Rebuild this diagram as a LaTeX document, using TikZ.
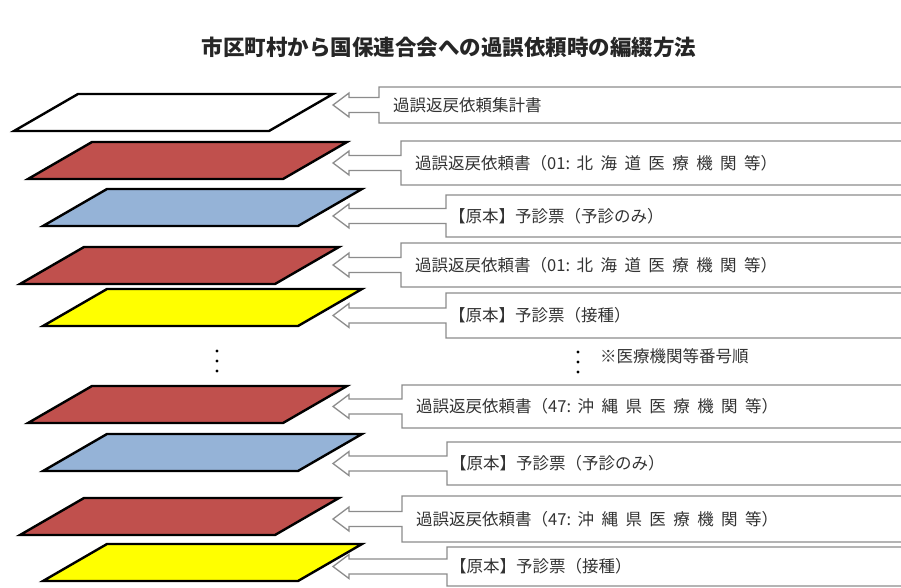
\documentclass[tikz,border=0pt]{standalone}
\usepackage{fontspec}
\newfontfamily\cjk{Noto Sans CJK JP}
\newfontfamily\cjkwide[LetterSpace=45]{Noto Sans CJK JP}
\definecolor{slipred}{HTML}{C0504D}
\definecolor{slipblue}{HTML}{95B3D7}
\definecolor{slipyellow}{HTML}{FFFF00}
\definecolor{calloutgray}{HTML}{8C8C8C}
\definecolor{labelgray}{HTML}{333333}

\tikzset{
  slipline/.style={draw=black, line width=2.4pt, line join=miter},
  calloutline/.style={draw=calloutgray, line width=1.3pt, fill=white},
  slipdot/.style={fill=black},
  listlabel/.style={anchor=west, inner sep=0pt, text=labelgray,
    font=\cjk\fontsize{16.5}{18}\selectfont},
}

% one sheet: bottom-left x, top y, fill colour
\newcommand{\slip}[3]{%
  \filldraw[slipline, fill=#3] (#1,#2+37) -- ++(255,0) -- ++(64,-37) -- ++(-255,0) -- cycle;}

% one callout: left x, top y, bottom y, name of its anchor
\newcommand{\callout}[4]{%
  \pgfmathsetmacro{\ymid}{(#2+#3)/2}
  \draw[calloutline] (#1,#2) -- (920,#2) -- (920,#3) -- (#1,#3) -- (#1,\ymid+7.5)
    -- (349,\ymid+7.5) -- (349,\ymid+12) -- (333,\ymid) -- (349,\ymid-12)
    -- (349,\ymid-7.5) -- (#1,\ymid-7.5) -- cycle;
  \coordinate (#4) at (#1,\ymid);}

\begin{document}
\begin{tikzpicture}[x=1pt, y=-1pt]
  \useasboundingbox (0,0) rectangle (901,588);
  \clip (0,0) rectangle (901,588);
  \fill[white] (0,0) rectangle (901,588);

  \node[text=black!85, font=\cjk\bfseries\fontsize{21.5}{24}\selectfont] (title) at (449,47)
    {市区町村から国保連合会への過誤依頼時の編綴方法};

  % sheets, top to bottom
  \slip{14}{94}{white}
  \slip{28}{142}{slipred}
  \slip{43}{189}{slipblue}
  \slip{20}{247}{slipred}
  \slip{43}{289}{slipyellow}
  \slip{28}{386}{slipred}
  \slip{43}{434}{slipblue}
  \slip{20}{498}{slipred}
  \slip{43}{544}{slipyellow}

  \foreach \y in {351,361,371} \fill[slipdot] (217,\y) circle (1.6);
  \foreach \y in {352,362,372} \fill[slipdot] (578,\y) circle (1.6);

  % callouts
  \callout{379}{87}{123}{c1}
  \callout{401}{141}{185}{c2}
  \callout{446}{195}{237}{c3}
  \callout{401}{243}{287}{c4}
  \callout{446}{293}{338}{c5}
  \callout{402}{385}{428}{c6}
  \callout{447}{442}{485}{c7}
  \callout{402}{496}{542}{c8}
  \callout{447}{547}{586}{c9}

  \node[listlabel] (lbl1) at ([xshift=14]c1) {過誤返戻依頼集計書};
  \node[listlabel] (lbl2) at ([xshift=14]c2) {過誤返戻依頼書（01:\hspace{0.4em}{\cjkwide 北海道医療機関等}）};
  \node[listlabel] (lbl3) at ([xshift=3]c3) {【原本】予診票（予診のみ）};
  \node[listlabel] (lbl4) at ([xshift=14]c4) {過誤返戻依頼書（01:\hspace{0.4em}{\cjkwide 北海道医療機関等}）};
  \node[listlabel] (lbl5) at ([xshift=3]c5) {【原本】予診票（接種）};
  \node[listlabel] (note) at (600,356) {※医療機関等番号順};
  \node[listlabel] (lbl6) at ([xshift=14]c6) {過誤返戻依頼書（47:\hspace{0.4em}{\cjkwide 沖縄県医療機関等}）};
  \node[listlabel] (lbl7) at ([xshift=3]c7) {【原本】予診票（予診のみ）};
  \node[listlabel] (lbl8) at ([xshift=14]c8) {過誤返戻依頼書（47:\hspace{0.4em}{\cjkwide 沖縄県医療機関等}）};
  \node[listlabel] (lbl9) at ([xshift=3]c9) {【原本】予診票（接種）};
\end{tikzpicture}
\end{document}
